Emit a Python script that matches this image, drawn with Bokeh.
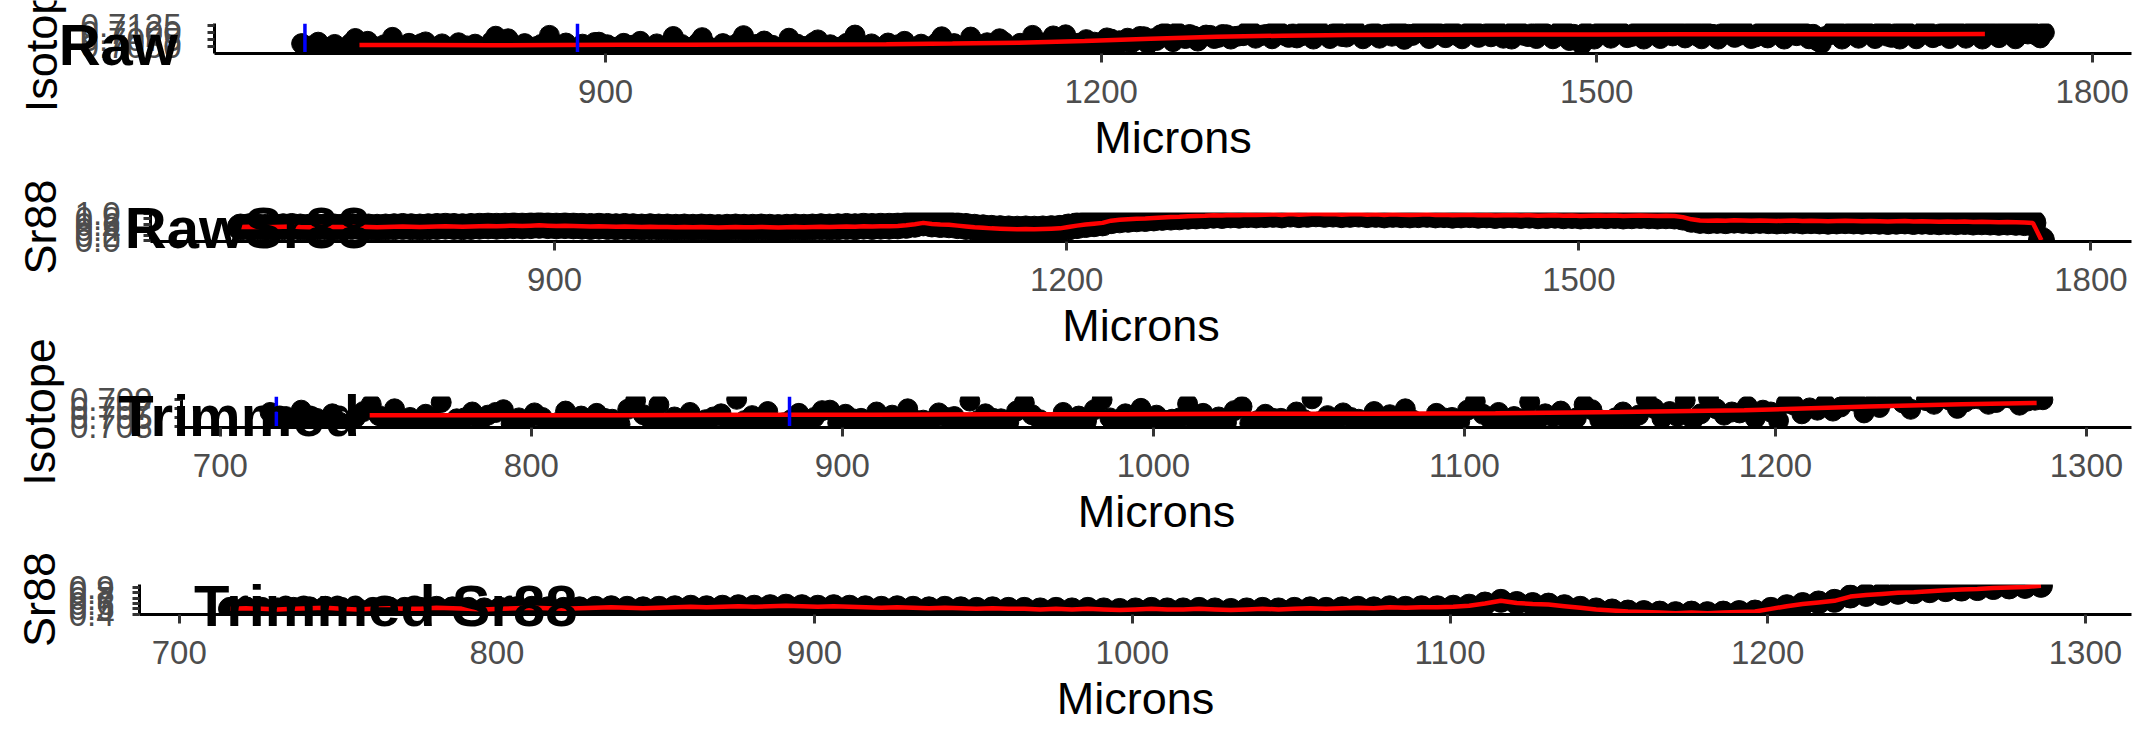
from bokeh.plotting import figure
from bokeh.models import (FixedTicker, PrintfTickFormatter, Label, LinearAxis,
                          Range1d, BasicTickFormatter)
from bokeh.embed import file_html
from bokeh.resources import INLINE

# ---------------- data ----------------
microns = [
    716, 721, 726, 731, 736, 741, 746, 751, 756, 761,
    766, 771, 776, 781, 786, 791, 796, 801, 806, 811,
    816, 821, 826, 831, 836, 841, 846, 851, 856, 861,
    866, 871, 876, 881, 886, 891, 896, 901, 906, 911,
    916, 921, 926, 931, 936, 941, 946, 951, 956, 961,
    966, 971, 976, 981, 986, 991, 996, 1001, 1006, 1011,
    1016, 1021, 1026, 1031, 1036, 1041, 1046, 1051, 1056, 1061,
    1066, 1071, 1076, 1081, 1086, 1091, 1096, 1101, 1106, 1111,
    1116, 1121, 1126, 1131, 1136, 1141, 1146, 1151, 1156, 1161,
    1166, 1171, 1176, 1181, 1186, 1191, 1196, 1201, 1206, 1211,
    1216, 1221, 1226, 1231, 1236, 1241, 1246, 1251, 1256, 1261,
    1266, 1271, 1276, 1281, 1286, 1291, 1296, 1301, 1306, 1311,
    1316, 1321, 1326, 1331, 1336, 1341, 1346, 1351, 1356, 1361,
    1366, 1371, 1376, 1381, 1386, 1391, 1396, 1401, 1406, 1411,
    1416, 1421, 1426, 1431, 1436, 1441, 1446, 1451, 1456, 1461,
    1466, 1471, 1476, 1481, 1486, 1491, 1496, 1501, 1506, 1511,
    1516, 1521, 1526, 1531, 1536, 1541, 1546, 1551, 1556, 1561,
    1566, 1571, 1576, 1581, 1586, 1591, 1596, 1601, 1606, 1611,
    1616, 1621, 1626, 1631, 1636, 1641, 1646, 1651, 1656, 1661,
    1666, 1671, 1676, 1681, 1686, 1691, 1696, 1701, 1706, 1711,
    1716, 1721, 1726, 1731, 1736, 1741, 1746, 1751, 1756, 1761, 1766, 1771,
]

isotope_raw = [
    0.7061, 0.7052, 0.7066, 0.7048, 0.7058, 0.7035, 0.7063, 0.7054, 0.7069, 0.7050,
    0.7057, 0.7083, 0.7047, 0.7062, 0.7055, 0.7067, 0.7049, 0.7060, 0.7031, 0.7064,
    0.7053, 0.7059, 0.7046, 0.7068, 0.7056, 0.7078, 0.7051, 0.7061, 0.7045, 0.7058,
    0.7090, 0.7054, 0.7063, 0.7038, 0.7059, 0.7050, 0.7066, 0.7057, 0.7048, 0.7062,
    0.7055, 0.7069, 0.7044, 0.7060, 0.7052, 0.7086, 0.7058, 0.7047, 0.7064, 0.7056,
    0.7033, 0.7061, 0.7053, 0.7067, 0.7049, 0.7058, 0.7070, 0.7055, 0.7046, 0.7080,
    0.7059, 0.7051, 0.7065, 0.7037, 0.7057, 0.7048, 0.7062, 0.7091, 0.7054, 0.7060,
    0.7046, 0.7063, 0.7056, 0.7069, 0.7034, 0.7059, 0.7050, 0.7066, 0.7057, 0.7061,
    0.7052, 0.7084, 0.7058, 0.7064, 0.7049, 0.7067, 0.7039, 0.7062, 0.7055, 0.7070,
    0.7063, 0.7088, 0.7058, 0.7069, 0.7062, 0.7075, 0.7066, 0.7043, 0.7077, 0.7071,
    0.7080, 0.7073, 0.7085, 0.7078, 0.7092, 0.7082, 0.7101, 0.7079, 0.7088, 0.7084,
    0.7090, 0.7083, 0.7092, 0.7086, 0.7089, 0.7104, 0.7088, 0.7094, 0.7112, 0.7090,
    0.7096, 0.7088, 0.7093, 0.7118, 0.7091, 0.7097, 0.7086, 0.7100, 0.7093, 0.7089,
    0.7098, 0.7092, 0.7087, 0.7103, 0.7094, 0.7099, 0.7121, 0.7090, 0.7095, 0.7101,
    0.7088, 0.7096, 0.7106, 0.7091, 0.7085, 0.7098, 0.7093, 0.7115, 0.7090, 0.7097,
    0.7102, 0.7092, 0.7087, 0.7104, 0.7094, 0.7058, 0.7089, 0.7099, 0.7123, 0.7093,
    0.7097, 0.7086, 0.7103, 0.7094, 0.7090, 0.7110, 0.7088, 0.7099, 0.7095, 0.7087,
    0.7101, 0.7093, 0.7097, 0.7127, 0.7090, 0.7096, 0.7084, 0.7102, 0.7094, 0.7091,
    0.7108, 0.7089, 0.7098, 0.7094, 0.7062, 0.7092, 0.7103, 0.7096, 0.7090, 0.7117,
    0.7093, 0.7100, 0.7087, 0.7097, 0.7111, 0.7091, 0.7095, 0.7102, 0.7088, 0.7099,
    0.7104, 0.7092, 0.7097, 0.7120, 0.7090, 0.7098, 0.7101, 0.7093, 0.7109, 0.7095, 0.7091, 0.7100,
]

# isotope spots measured in between the ones above
microns_half = [
    718.5, 723.5, 728.5, 733.5, 738.5, 743.5, 748.5, 753.5, 758.5, 763.5,
    768.5, 773.5, 778.5, 783.5, 788.5, 793.5, 798.5, 803.5, 808.5, 813.5,
    818.5, 823.5, 828.5, 833.5, 838.5, 843.5, 848.5, 853.5, 858.5, 863.5,
    868.5, 873.5, 878.5, 883.5, 888.5, 893.5, 898.5, 903.5, 908.5, 913.5,
    918.5, 923.5, 928.5, 933.5, 938.5, 943.5, 948.5, 953.5, 958.5, 963.5,
    968.5, 973.5, 978.5, 983.5, 988.5, 993.5, 998.5, 1003.5, 1008.5, 1013.5,
    1018.5, 1023.5, 1028.5, 1033.5, 1038.5, 1043.5, 1048.5, 1053.5, 1058.5, 1063.5,
    1068.5, 1073.5, 1078.5, 1083.5, 1088.5, 1093.5, 1098.5, 1103.5, 1108.5, 1113.5,
    1118.5, 1123.5, 1128.5, 1133.5, 1138.5, 1143.5, 1148.5, 1153.5, 1158.5, 1163.5,
    1168.5, 1173.5, 1178.5, 1183.5, 1188.5, 1193.5, 1198.5, 1203.5, 1208.5, 1213.5,
    1218.5, 1223.5, 1228.5, 1233.5, 1238.5, 1243.5, 1248.5, 1253.5, 1258.5, 1263.5,
    1268.5, 1273.5, 1278.5, 1283.5, 1288.5, 1293.5, 1298.5, 1303.5, 1308.5, 1313.5,
    1318.5, 1323.5, 1328.5, 1333.5, 1338.5, 1343.5, 1348.5, 1353.5, 1358.5, 1363.5,
    1368.5, 1373.5, 1378.5, 1383.5, 1388.5, 1393.5, 1398.5, 1403.5, 1408.5, 1413.5,
    1418.5, 1423.5, 1428.5, 1433.5, 1438.5, 1443.5, 1448.5, 1453.5, 1458.5, 1463.5,
    1468.5, 1473.5, 1478.5, 1483.5, 1488.5, 1493.5, 1498.5, 1503.5, 1508.5, 1513.5,
    1518.5, 1523.5, 1528.5, 1533.5, 1538.5, 1543.5, 1548.5, 1553.5, 1558.5, 1563.5,
    1568.5, 1573.5, 1578.5, 1583.5, 1588.5, 1593.5, 1598.5, 1603.5, 1608.5, 1613.5,
    1618.5, 1623.5, 1628.5, 1633.5, 1638.5, 1643.5, 1648.5, 1653.5, 1658.5, 1663.5,
    1668.5, 1673.5, 1678.5, 1683.5, 1688.5, 1693.5, 1698.5, 1703.5, 1708.5, 1713.5,
    1718.5, 1723.5, 1728.5, 1733.5, 1738.5, 1743.5, 1748.5, 1753.5, 1758.5, 1763.5, 1768.5,
]

isotope_half = [
    0.7041, 0.7048, 0.7036, 0.7044, 0.7039, 0.7050, 0.7079, 0.7038, 0.7046, 0.7042,
    0.7045, 0.7037, 0.7049, 0.7041, 0.7061, 0.7036, 0.7043, 0.7050, 0.7039, 0.7047,
    0.7040, 0.7048, 0.7035, 0.7087, 0.7044, 0.7038, 0.7046, 0.7042, 0.7051, 0.7037,
    0.7043, 0.7049, 0.7032, 0.7045, 0.7040, 0.7065, 0.7038, 0.7047, 0.7041, 0.7046,
    0.7039, 0.7044, 0.7041, 0.7050, 0.7036, 0.7043, 0.7048, 0.7040, 0.7082, 0.7045,
    0.7038, 0.7045, 0.7042, 0.7089, 0.7037, 0.7047, 0.7035, 0.7044, 0.7049, 0.7041,
    0.7046, 0.7039, 0.7074, 0.7043, 0.7048, 0.7036, 0.7045, 0.7041, 0.7038, 0.7050,
    0.7042, 0.7047, 0.7039, 0.7044, 0.7036, 0.7049, 0.7041, 0.7085, 0.7045, 0.7040,
    0.7047, 0.7043, 0.7051, 0.7039, 0.7078, 0.7045, 0.7049, 0.7042, 0.7090, 0.7048,
    0.7052, 0.7045, 0.7092, 0.7055, 0.7060, 0.7048, 0.7062, 0.7081, 0.7058, 0.7066,
    0.7064, 0.7086, 0.7060, 0.7072, 0.7098, 0.7068, 0.7087, 0.7093, 0.7070, 0.7091,
    0.7079, 0.7093, 0.7077, 0.7088, 0.7104, 0.7080, 0.7092, 0.7078, 0.7100, 0.7083,
    0.7081, 0.7108, 0.7077, 0.7094, 0.7079, 0.7101, 0.7084, 0.7113, 0.7078, 0.7096,
    0.7080, 0.7095, 0.7104, 0.7076, 0.7090, 0.7110, 0.7079, 0.7099, 0.7082, 0.7102,
    0.7078, 0.7105, 0.7083, 0.7097, 0.7119, 0.7080, 0.7077, 0.7103, 0.7086, 0.7079,
    0.7098, 0.7078, 0.7112, 0.7072, 0.7084, 0.7101, 0.7077, 0.7096, 0.7080, 0.7108,
    0.7082, 0.7100, 0.7077, 0.7116, 0.7079, 0.7097, 0.7104, 0.7081, 0.7110, 0.7078,
    0.7095, 0.7077, 0.7103, 0.7083, 0.7113, 0.7079, 0.7099, 0.7081, 0.7119, 0.7077,
    0.7097, 0.7104, 0.7078, 0.7071, 0.7086, 0.7109, 0.7077, 0.7098, 0.7080, 0.7102,
    0.7079, 0.7107, 0.7083, 0.7077, 0.7100, 0.7078, 0.7112, 0.7082, 0.7097, 0.7079,
    0.7105, 0.7080, 0.7114, 0.7077, 0.7098, 0.7082, 0.7110, 0.7078, 0.7097, 0.7103, 0.7081,
]

sr88_raw = [
    0.50, 0.51, 0.50, 0.49, 0.50, 0.51, 0.52, 0.50, 0.49, 0.50,
    0.51, 0.50, 0.50, 0.52, 0.51, 0.50, 0.49, 0.50, 0.51, 0.52,
    0.51, 0.50, 0.51, 0.52, 0.53, 0.52, 0.51, 0.52, 0.53, 0.54,
    0.53, 0.54, 0.55, 0.54, 0.55, 0.56, 0.55, 0.54, 0.55, 0.54,
    0.53, 0.52, 0.53, 0.52, 0.51, 0.52, 0.51, 0.50, 0.51, 0.50,
    0.50, 0.49, 0.50, 0.49, 0.50, 0.49, 0.48, 0.49, 0.50, 0.49,
    0.49, 0.50, 0.49, 0.48, 0.49, 0.50, 0.49, 0.50, 0.51, 0.50,
    0.51, 0.52, 0.51, 0.53, 0.52, 0.53, 0.53, 0.54, 0.56, 0.60,
    0.65, 0.61, 0.59, 0.58, 0.55, 0.52, 0.49, 0.47, 0.45, 0.44,
    0.43, 0.42, 0.43, 0.42, 0.43, 0.44, 0.45, 0.50, 0.55, 0.59,
    0.62, 0.65, 0.73, 0.76, 0.78, 0.80, 0.81, 0.83, 0.85, 0.86,
    0.87, 0.89, 0.90, 0.91, 0.93, 0.92, 0.94, 0.93, 0.95, 0.94,
    0.95, 0.96, 0.94, 0.97, 0.95, 0.96, 0.98, 0.96, 0.97, 0.95,
    0.96, 0.97, 0.95, 0.96, 0.94, 0.96, 0.95, 0.94, 0.95, 0.96,
    0.94, 0.95, 0.93, 0.94, 0.95, 0.93, 0.94, 0.92, 0.93, 0.94,
    0.92, 0.93, 0.91, 0.92, 0.93, 0.91, 0.92, 0.90, 0.91, 0.92,
    0.91, 0.92, 0.90, 0.91, 0.92, 0.91, 0.90, 0.91, 0.90, 0.86,
    0.78, 0.74, 0.73, 0.74, 0.73, 0.75, 0.74, 0.73, 0.74, 0.73,
    0.72, 0.73, 0.74, 0.72, 0.73, 0.72, 0.71, 0.72, 0.73, 0.72,
    0.71, 0.72, 0.71, 0.70, 0.71, 0.72, 0.70, 0.71, 0.70, 0.69,
    0.70, 0.69, 0.70, 0.68, 0.69, 0.68, 0.67, 0.68, 0.67, 0.66, 0.65, 0.02,
]

# smoothed isotope ratio (red line), raw and trimmed
raw_smooth_x = [751, 790, 830, 870, 910, 950, 990, 1030, 1070, 1110, 1150, 1190,
                1230, 1270, 1310, 1350, 1400, 1450, 1500, 1550, 1600, 1650, 1700, 1735]
raw_smooth_y = [0.7056, 0.7056, 0.7055, 0.7056, 0.7057, 0.7057, 0.7058, 0.7058, 0.7059,
                0.7061, 0.7064, 0.7070, 0.7078, 0.7085, 0.7089, 0.7091, 0.7092, 0.7093,
                0.7093, 0.7094, 0.7094, 0.7094, 0.7094, 0.7095]
trim_smooth_x = [748, 790, 830, 870, 910, 950, 990, 1030, 1070, 1110, 1150, 1190,
                 1230, 1260, 1284]
trim_smooth_y = [0.7055, 0.7055, 0.7055, 0.7056, 0.7056, 0.7057, 0.7057, 0.7058, 0.7058,
                 0.7059, 0.7062, 0.7066, 0.7074, 0.7079, 0.7082]

# trimming of the profile
trim_end = 1286
iso_keep = (0.7029, 0.7093)

# vertical markers (blue)
marks = [718, 883]

# tick values
x_ticks_raw = [900, 1200, 1500, 1800]
x_ticks_trim = [700, 800, 900, 1000, 1100, 1200, 1300]
y_ticks_iso_raw = [0.7050, 0.7075, 0.7100, 0.7125]
y_ticks_sr_raw = [0.0, 0.2, 0.4, 0.6, 0.8, 1.0]
y_ticks_iso_trim = [0.703, 0.705, 0.707, 0.709]
y_ticks_sr_trim = [0.4, 0.5, 0.6, 0.7, 0.8, 0.9]

panel_titles = ["Raw", "RawSr88", "Trimmed", "Trimmed Sr88"]

# ---------------- derived subsets ----------------
iso_all_x = microns + microns_half
iso_all_y = isotope_raw + isotope_half
iso_trim_x = [x for x, v in zip(iso_all_x, iso_all_y)
              if x <= trim_end and iso_keep[0] <= v <= iso_keep[1]]
iso_trim_y = [v for x, v in zip(iso_all_x, iso_all_y)
              if x <= trim_end and iso_keep[0] <= v <= iso_keep[1]]
sr_trim_x = [x for x in microns if x <= trim_end]
sr_trim_y = [v for x, v in zip(microns, sr88_raw) if x <= trim_end]

# ---------------- layout ----------------
FONT = "Liberation Sans"
W, H = 2154, 749
R = 2131  # right edge of every panel

p = figure(width=W, height=H, x_axis_type=None, y_axis_type=None,
           x_range=Range1d(0, 1), y_range=Range1d(0, 1),
           min_border=0, output_backend="svg", toolbar_location=None)
p.xgrid.visible = False
p.ygrid.visible = False
p.outline_line_color = None
p.background_fill_color = "white"
p.border_fill_color = "white"

xr, yr, geo = {}, {}, {}


def padded(vals):
    lo, hi = min(vals), max(vals)
    s = hi - lo
    return lo - 0.05 * s, hi + 0.05 * s


def style(ax):
    ax.axis_line_color = "black"
    ax.axis_line_width = 3
    ax.major_tick_line_color = "#333333"
    ax.major_tick_line_width = 3
    ax.major_tick_in = 0
    ax.minor_tick_line_color = None
    ax.major_label_text_font = FONT
    ax.major_label_text_font_size = "33px"
    ax.major_label_text_color = "#4D4D4D"
    ax.axis_label_text_font = FONT
    ax.axis_label_text_font_size = "45px"
    ax.axis_label_text_font_style = "normal"
    ax.axis_label_text_color = "black"


def panel(name, xs, ys, L, top, bottom, xticks, yticks, yfmt, ytitle, l_standoff, t_standoff):
    a, b = padded(xs)
    c, d = padded(ys)
    kx = (R - L) / (b - a)
    ky = (bottom - top) / (d - c)
    xr[name] = Range1d(a - L / kx, b + (W - R) / kx)
    yr[name] = Range1d(c - (H - bottom) / ky, d + top / ky)
    geo[name] = (a, b, c, d, ky)

    xa = LinearAxis(x_range_name=name, y_range_name=name, fixed_location=c,
                    bounds=(a, b), ticker=FixedTicker(ticks=xticks),
                    formatter=BasicTickFormatter(), axis_label="Microns")
    style(xa)
    xa.major_tick_out = 9
    xa.major_label_standoff = 17
    xa.axis_label_standoff = 6
    p.add_layout(xa, "below")

    ya = LinearAxis(x_range_name=name, y_range_name=name, fixed_location=a,
                    bounds=(c, d), ticker=FixedTicker(ticks=yticks),
                    formatter=PrintfTickFormatter(format=yfmt), axis_label=ytitle)
    style(ya)
    ya.major_tick_out = 7
    ya.major_label_standoff = l_standoff
    ya.axis_label_standoff = t_standoff
    p.add_layout(ya, "left")


def title(name, text, x, y):
    p.add_layout(Label(x=x, y=y, x_range_name=name, y_range_name=name, text=text,
                       text_font=FONT, text_font_size="58px", text_font_style="bold",
                       text_color="black", text_align="center", text_baseline="middle"))


def clip_panel(name):
    # white bands just outside the panel, so marks are cut at the panel edge
    a, b, c, d, ky = geo[name]
    band = 16 / ky
    p.quad(left=[a, a], right=[b, b], bottom=[c - band, d], top=[c, d + band],
           fill_color="white", line_color=None, x_range_name=name, y_range_name=name)


panel("p1", iso_all_x, iso_all_y, 214, 23, 53, x_ticks_raw, y_ticks_iso_raw,
      "%.4f", "Isotope", 26, 11)
panel("p2", microns, sr88_raw, 150, 212, 241, x_ticks_raw, y_ticks_sr_raw,
      "%.1f", "Sr88", 23, 6)
panel("p3", iso_trim_x, iso_trim_y, 181, 396, 427, x_ticks_trim, y_ticks_iso_trim,
      "%.3f", "Isotope", 22, 2)
panel("p4", sr_trim_x, sr_trim_y, 139, 584, 614, x_ticks_trim, y_ticks_sr_trim,
      "%.1f", "Sr88", 18, 1)

p.extra_x_ranges = xr
p.extra_y_ranges = yr

# panel 1: raw isotope
p.scatter(iso_all_x, iso_all_y, size=20, color="black", x_range_name="p1", y_range_name="p1")
p.line(raw_smooth_x, raw_smooth_y, line_color="red", line_width=4.5,
       x_range_name="p1", y_range_name="p1")
a1, b1, c1, d1, _ = geo["p1"]
p.segment(x0=marks, y0=[c1] * len(marks), x1=marks, y1=[d1] * len(marks),
          line_color="blue", line_width=3.5, x_range_name="p1", y_range_name="p1")

# panel 2: raw Sr88
p.scatter(microns, sr88_raw, size=26, color="black", x_range_name="p2", y_range_name="p2")
p.line(microns, sr88_raw, line_color="red", line_width=4.5, x_range_name="p2", y_range_name="p2")

# panel 3: trimmed isotope
p.scatter(iso_trim_x, iso_trim_y, size=20, color="black", x_range_name="p3", y_range_name="p3")
p.line(trim_smooth_x, trim_smooth_y, line_color="red", line_width=4.5,
       x_range_name="p3", y_range_name="p3")
a3, b3, c3, d3, _ = geo["p3"]
p.segment(x0=marks, y0=[c3] * len(marks), x1=marks, y1=[d3] * len(marks),
          line_color="blue", line_width=3.5, x_range_name="p3", y_range_name="p3")

# panel 4: trimmed Sr88
p.scatter(sr_trim_x, sr_trim_y, size=23, color="black", x_range_name="p4", y_range_name="p4")
p.line(sr_trim_x, sr_trim_y, line_color="red", line_width=4.5, x_range_name="p4", y_range_name="p4")

for nm in ("p1", "p2", "p3", "p4"):
    clip_panel(nm)

title("p1", panel_titles[0], 605, 0.7057)
title("p2", panel_titles[1], 720, 0.47)
title("p3", panel_titles[2], 706, 0.7054)
title("p4", panel_titles[3], 765, 0.563)

open("out.html", "w").write(file_html(p, INLINE))
